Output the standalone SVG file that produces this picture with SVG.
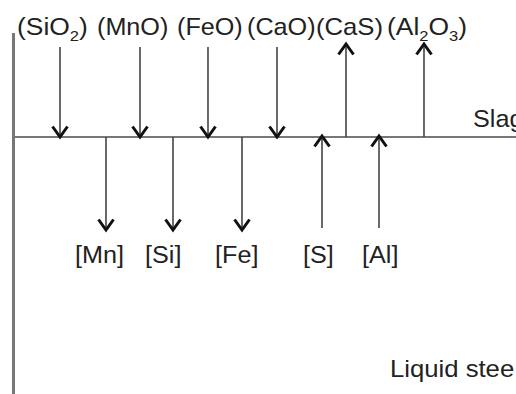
<svg xmlns="http://www.w3.org/2000/svg" width="516" height="394" viewBox="0 0 516 394">
<style>
  .lbl { font-family: "Liberation Sans", Arial, sans-serif; font-size: 24px; fill: #222; }
  .sub { font-size: 15px; }
  .shaft { stroke: #444; stroke-width: 1.6; fill: none; marker-end: url(#ah); }
  .axis { stroke: #777; fill: none; }
</style>
<defs>
  <marker id="ah" markerUnits="userSpaceOnUse" viewBox="0 0 24 24" markerWidth="24" markerHeight="24" refX="12" refY="12" orient="auto">
    <path d="M 1.5,4.5 L 12,12 L 1.5,19.5" fill="none" stroke="#111" stroke-width="3"/>
  </marker>
</defs>
<rect width="516" height="394" fill="#fff"/>

<g id="axes">
  <line class="axis" x1="13.5" y1="33" x2="13.5" y2="394" stroke-width="3"/>
  <line class="axis" x1="12" y1="137" x2="516" y2="137" stroke-width="2"/>
</g>

<g id="connectors">
  <line class="shaft" x1="60" y1="47" x2="60" y2="137"/>
  <line class="shaft" x1="140" y1="47" x2="140" y2="137"/>
  <line class="shaft" x1="208" y1="47" x2="208" y2="137"/>
  <line class="shaft" x1="277" y1="47" x2="277" y2="137"/>
  <line class="shaft" x1="346" y1="137" x2="346" y2="44"/>
  <line class="shaft" x1="424" y1="137" x2="424" y2="44"/>
  <line class="shaft" x1="106" y1="137" x2="106" y2="230"/>
  <line class="shaft" x1="173" y1="137" x2="173" y2="230"/>
  <line class="shaft" x1="242" y1="137" x2="242" y2="230"/>
  <line class="shaft" x1="322" y1="228" x2="322" y2="136"/>
  <line class="shaft" x1="379" y1="228" x2="379" y2="136"/>
</g>

<g id="n-sio2"><text class="lbl" transform="translate(17,35) scale(1.1,1)">(SiO<tspan class="sub" dy="6">2</tspan><tspan dy="-6">)</tspan></text></g>
<g id="n-mno"><text class="lbl" transform="translate(97,35) scale(1.05,1)">(MnO)</text></g>
<g id="n-feo"><text class="lbl" transform="translate(177,35) scale(1.05,1)">(FeO)</text></g>
<g id="n-cao"><text class="lbl" transform="translate(247,35) scale(1.05,1)">(CaO)</text></g>
<g id="n-cas"><text class="lbl" transform="translate(316,35) scale(1.07,1)">(CaS)</text></g>
<g id="n-al2o3"><text class="lbl" transform="translate(387,35) scale(1.1,1)">(Al<tspan class="sub" dy="6">2</tspan><tspan dy="-6">O</tspan><tspan class="sub" dy="6">3</tspan><tspan dy="-6">)</tspan></text></g>

<g id="n-mn"><text class="lbl" transform="translate(75,263) scale(1.05,1)">[Mn]</text></g>
<g id="n-si"><text class="lbl" transform="translate(145,263) scale(1.05,1)">[Si]</text></g>
<g id="n-fe"><text class="lbl" transform="translate(215,263) scale(1.05,1)">[Fe]</text></g>
<g id="n-s"><text class="lbl" transform="translate(303,263) scale(1.05,1)">[S]</text></g>
<g id="n-al"><text class="lbl" transform="translate(362,263) scale(1.05,1)">[Al]</text></g>

<g id="n-slag"><text class="lbl" transform="translate(473,127) scale(1.05,1)">Slag</text></g>
<g id="n-steel"><text class="lbl" transform="translate(390,377) scale(1.07,1)">Liquid stee</text></g>
</svg>
